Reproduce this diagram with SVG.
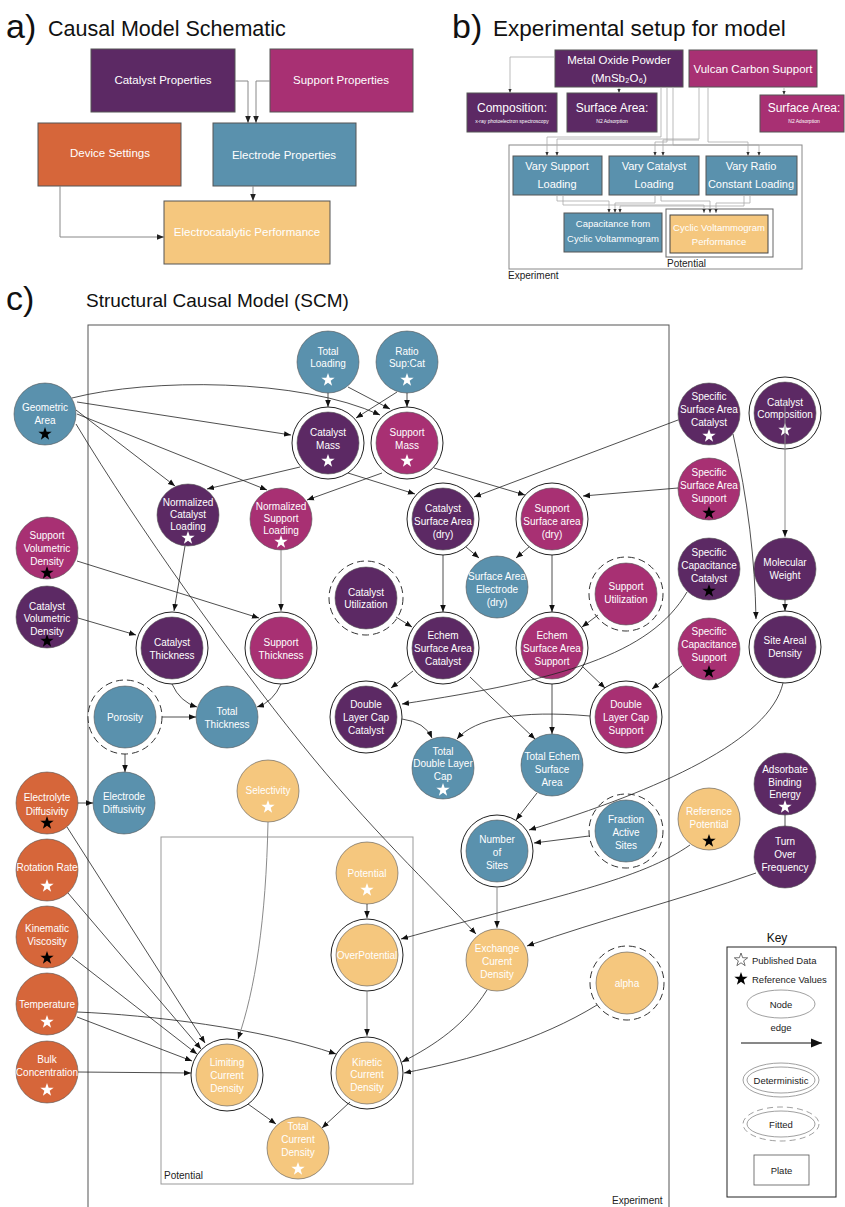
<svg xmlns="http://www.w3.org/2000/svg" width="845" height="1207" viewBox="0 0 845 1207">
<defs>
<style>
.cat{fill:#5C2964}.sup{fill:#A83073}.ele{fill:#5A91AD}.dev{fill:#D6663A}.perf{fill:#F5C77E}
.nc{stroke:#555;stroke-width:0.6}
.ring{fill:#fff;stroke:#222;stroke-width:1}
.fring{fill:#fff;stroke:#333;stroke-width:1;stroke-dasharray:7 4}
.nt{font-family:"Liberation Sans",Arial,sans-serif;font-size:10px;fill:#fff;text-anchor:middle}
.ws{fill:#fff}.bs{fill:#000}
.e{fill:none;stroke:#222;stroke-width:0.8;marker-end:url(#ah)}
.eg{fill:none;stroke:#8a8a8a;stroke-width:1;marker-end:url(#ah)}
.ttl{font-family:"Liberation Sans",Arial,sans-serif;fill:#111}
.box{stroke:#555;stroke-width:1}
.bt{font-family:"Liberation Sans",Arial,sans-serif;fill:#fff;text-anchor:middle}
.ac{fill:none;stroke:#888;stroke-width:1;marker-end:url(#ah2)}
.bc{fill:none;stroke:#aaa;stroke-width:0.8;marker-end:url(#ah3)}
.lbl{font-family:"Liberation Sans",Arial,sans-serif;font-size:10px;fill:#222}
.kt{font-family:"Liberation Sans",Arial,sans-serif;font-size:9.5px;fill:#222}
</style>
<marker id="ah" viewBox="0 0 10 10" refX="10" refY="5" markerWidth="7" markerHeight="7" markerUnits="userSpaceOnUse" orient="auto"><path d="M0,1 L10,5 L0,9 Z" fill="#111"/></marker>
<marker id="ah2" viewBox="0 0 10 10" refX="10" refY="5" markerWidth="7" markerHeight="7" markerUnits="userSpaceOnUse" orient="auto"><path d="M0,1 L10,5 L0,9 Z" fill="#222"/></marker>
<marker id="ah3" viewBox="0 0 10 10" refX="10" refY="5" markerWidth="4" markerHeight="4" markerUnits="userSpaceOnUse" orient="auto"><path d="M0,1 L10,5 L0,9 Z" fill="#333"/></marker>
<marker id="ahk" viewBox="0 0 10 10" refX="10" refY="5" markerWidth="11" markerHeight="11" markerUnits="userSpaceOnUse" orient="auto"><path d="M0,1 L10,5 L0,9 Z" fill="#111"/></marker>
<path id="star" d="M0,-7 L1.65,-2.27 L6.66,-2.16 L2.66,0.87 L4.11,5.66 L0,2.8 L-4.11,5.66 L-2.66,0.87 L-6.66,-2.16 L-1.65,-2.27 Z"/>
</defs>
<rect width="845" height="1207" fill="#fff"/>

<!-- Panel a -->
<g id="panel-a">
<text class="ttl" x="6" y="38" font-size="34">a)</text>
<text class="ttl" x="48" y="36" font-size="21.5">Causal Model Schematic</text>
<g id="a-catalyst"><rect class="cat box" x="91" y="49" width="144" height="63"/><text class="bt" x="163" y="84" font-size="11.5">Catalyst Properties</text></g>
<g id="a-support"><rect class="sup box" x="270" y="49" width="143" height="63"/><text class="bt" x="341" y="84" font-size="11.5">Support Properties</text></g>
<g id="a-device"><rect class="dev box" x="38" y="123" width="143" height="63"/><text class="bt" x="110" y="157" font-size="11.5">Device Settings</text></g>
<g id="a-electrode"><rect class="ele box" x="213" y="123" width="143" height="63"/><text class="bt" x="284" y="159" font-size="11.5">Electrode Properties</text></g>
<g id="a-performance"><rect class="perf box" x="164" y="201" width="166" height="63"/><text class="bt" x="247" y="236" font-size="11.5">Electrocatalytic Performance</text></g>
<g id="a-connectors">
<path class="ac" d="M235,81 H248 V123"/>
<path class="ac" d="M270,81 H256 V123"/>
<path class="ac" d="M253,186 V201"/>
<path class="ac" d="M60,186 V237 H164"/>
</g>
</g>

<!-- Panel b -->
<g id="panel-b">
<text class="ttl" x="452" y="38" font-size="34">b)</text>
<text class="ttl" x="493" y="36" font-size="22.5">Experimental setup for model</text>
<rect x="509" y="145" width="293" height="124" fill="none" stroke="#888" stroke-width="1"/>
<text class="lbl" x="508" y="279">Experiment</text>
<rect x="666" y="209" width="107" height="48" fill="none" stroke="#666" stroke-width="1"/>
<text class="lbl" x="667" y="267">Potential</text>
<g id="b-metal-oxide"><rect class="cat box" x="555" y="50" width="128" height="37"/><text class="bt" font-size="11.5"><tspan x="619" y="64">Metal Oxide Powder</tspan><tspan x="619" y="82">(MnSb₂O₆)</tspan></text></g>
<g id="b-vulcan"><rect class="sup box" x="689" y="50" width="128" height="37"/><text class="bt" x="753" y="73" font-size="11.5">Vulcan Carbon Support</text></g>
<g id="b-composition"><rect class="cat box" x="467" y="93" width="90" height="39"/><text class="bt" x="512" y="112" font-size="12">Composition:</text><text class="bt" x="512" y="123" font-size="5">x-ray photoelectron spectroscopy</text></g>
<g id="b-surface-area-cat"><rect class="cat box" x="567" y="93" width="90" height="39"/><text class="bt" x="612" y="112" font-size="12">Surface Area:</text><text class="bt" x="612" y="123" font-size="5">N2 Adsorption</text></g>
<g id="b-surface-area-sup"><rect class="sup box" x="760" y="95" width="84" height="37"/><text class="bt" x="804" y="112" font-size="12">Surface Area:</text><text class="bt" x="804" y="123" font-size="5">N2 Adsorption</text></g>
<g id="b-vary-support"><rect class="ele box" x="513" y="156" width="89" height="39"/><text class="bt" font-size="11"><tspan x="557" y="170">Vary Support</tspan><tspan x="557" y="188">Loading</tspan></text></g>
<g id="b-vary-catalyst"><rect class="ele box" x="609" y="156" width="90" height="39"/><text class="bt" font-size="11"><tspan x="654" y="170">Vary Catalyst</tspan><tspan x="654" y="188">Loading</tspan></text></g>
<g id="b-vary-ratio"><rect class="ele box" x="706" y="156" width="91" height="39"/><text class="bt" font-size="11"><tspan x="751" y="170">Vary Ratio</tspan><tspan x="751" y="188">Constant Loading</tspan></text></g>
<g id="b-capacitance"><rect class="ele box" x="564" y="213" width="98" height="39"/><text class="bt" font-size="9.5"><tspan x="613" y="227">Capacitance from</tspan><tspan x="613" y="242">Cyclic Voltammogram</tspan></text></g>
<g id="b-cv-performance"><rect class="perf" x="670" y="215" width="98" height="38" stroke="#444" stroke-width="1"/><text class="bt" font-size="9.5"><tspan x="719" y="231">Cyclic Voltammogram</tspan><tspan x="719" y="245">Performance</tspan></text></g>
<g id="b-connectors">
<path class="bc" d="M555,57 H510 V93"/>
<path class="bc" d="M619,87 V93"/>
<path class="bc" d="M784,87 V95"/>
<path class="bc" d="M661,87 V137 H547 V156"/>
<path class="bc" d="M699,87 V139 H557 V156"/>
<path class="bc" d="M667,87 V142 H655 V156"/>
<path class="bc" d="M699,140 H663 V156"/>
<path class="bc" d="M673,87 V145 H759 V156"/>
<path class="bc" d="M708,87 V142 H748 V156"/>
<path class="bc" d="M557,195 V201 H609 V213"/>
<path class="bc" d="M563,195 V205 H704 V213"/>
<path class="bc" d="M655,195 V203 H615 V213"/>
<path class="bc" d="M661,195 V201 H710 V213"/>
<path class="bc" d="M744,195 V206 H620 V213"/>
<path class="bc" d="M750,195 V203 H716 V213"/>
</g>
</g>

<!-- Panel c -->
<text class="ttl" x="6" y="310" font-size="34">c)</text>
<text class="ttl" x="86" y="307" font-size="19">Structural Causal Model (SCM)</text>
<g id="plates">
<rect x="88" y="325" width="581" height="900" fill="none" stroke="#555" stroke-width="1"/>
<text class="lbl" x="612" y="1204">Experiment</text>
<rect x="161" y="837" width="252" height="347" fill="none" stroke="#999" stroke-width="1"/>
<text class="lbl" x="164" y="1179">Potential</text>
</g>

<g id="nodes">
<g id="geometric-area"><circle class="ele nc" cx="45" cy="414" r="31"/><text class="nt"><tspan x="45" y="410.5">Geometric</tspan><tspan x="45" y="423.5">Area</tspan></text><use href="#star" x="45" y="434" class="bs"/></g>
<g id="total-loading"><circle class="ele nc" cx="328" cy="362" r="31"/><text class="nt"><tspan x="328" y="354.5">Total</tspan><tspan x="328" y="366.5">Loading</tspan></text><use href="#star" x="328" y="380" class="ws"/></g>
<g id="ratio-sup-cat"><circle class="ele nc" cx="407" cy="362" r="31"/><text class="nt"><tspan x="407" y="354.5">Ratio</tspan><tspan x="407" y="366.5">Sup:Cat</tspan></text><use href="#star" x="407" y="380" class="ws"/></g>
<g id="catalyst-mass"><circle class="ring" cx="328" cy="443" r="36"/><circle class="cat nc" cx="328" cy="443" r="31"/><text class="nt"><tspan x="328" y="435.5">Catalyst</tspan><tspan x="328" y="448.5">Mass</tspan></text><use href="#star" x="328" y="461" class="ws"/></g>
<g id="support-mass"><circle class="ring" cx="407" cy="443" r="36"/><circle class="sup nc" cx="407" cy="443" r="31"/><text class="nt"><tspan x="407" y="435.5">Support</tspan><tspan x="407" y="448.5">Mass</tspan></text><use href="#star" x="407" y="461" class="ws"/></g>
<g id="specific-surface-area-catalyst"><circle class="cat nc" cx="709" cy="414" r="31"/><text class="nt"><tspan x="709" y="399.5">Specific</tspan><tspan x="709" y="412.5">Surface Area</tspan><tspan x="709" y="425.5">Catalyst</tspan></text><use href="#star" x="709" y="436" class="ws"/></g>
<g id="catalyst-composition"><circle class="ring" cx="785" cy="413" r="36"/><circle class="cat nc" cx="785" cy="413" r="31"/><text class="nt"><tspan x="785" y="405.5">Catalyst</tspan><tspan x="785" y="417.5">Composition</tspan></text><use href="#star" x="785" y="430" class="ws"/></g>
<g id="specific-surface-area-support"><circle class="sup nc" cx="709" cy="489" r="31"/><text class="nt"><tspan x="709" y="475.5">Specific</tspan><tspan x="709" y="488.5">Surface Area</tspan><tspan x="709" y="501.5">Support</tspan></text><use href="#star" x="709" y="513" class="bs"/></g>
<g id="normalized-catalyst-loading"><circle class="cat nc" cx="188" cy="515" r="31"/><text class="nt"><tspan x="188" y="505.5">Normalized</tspan><tspan x="188" y="517.5">Catalyst</tspan><tspan x="188" y="529.5">Loading</tspan></text><use href="#star" x="188" y="538" class="ws"/></g>
<g id="normalized-support-loading"><circle class="sup nc" cx="281" cy="519" r="31"/><text class="nt"><tspan x="281" y="509.5">Normalized</tspan><tspan x="281" y="521.5">Support</tspan><tspan x="281" y="533.5">Loading</tspan></text><use href="#star" x="281" y="542" class="ws"/></g>
<g id="catalyst-surface-area-dry"><circle class="ring" cx="443" cy="519" r="36"/><circle class="cat nc" cx="443" cy="519" r="31"/><text class="nt"><tspan x="443" y="511.5">Catalyst</tspan><tspan x="443" y="524.5">Surface Area</tspan><tspan x="443" y="537.5">(dry)</tspan></text></g>
<g id="support-surface-area-dry"><circle class="ring" cx="552" cy="519" r="36"/><circle class="sup nc" cx="552" cy="519" r="31"/><text class="nt"><tspan x="552" y="511.5">Support</tspan><tspan x="552" y="524.5">Surface area</tspan><tspan x="552" y="537.5">(dry)</tspan></text></g>
<g id="support-volumetric-density"><circle class="sup nc" cx="47" cy="548" r="31"/><text class="nt"><tspan x="47" y="538.5">Support</tspan><tspan x="47" y="551.5">Volumetric</tspan><tspan x="47" y="564.5">Density</tspan></text><use href="#star" x="47" y="573" class="bs"/></g>
<g id="catalyst-volumetric-density"><circle class="cat nc" cx="47" cy="617" r="31"/><text class="nt"><tspan x="47" y="609.5">Catalyst</tspan><tspan x="47" y="621.5">Volumetric</tspan><tspan x="47" y="634.5">Density</tspan></text><use href="#star" x="47" y="641" class="bs"/></g>
<g id="surface-area-electrode-dry"><circle class="ele nc" cx="497" cy="587" r="31"/><text class="nt"><tspan x="497" y="579.5">Surface Area</tspan><tspan x="497" y="592.5">Electrode</tspan><tspan x="497" y="605.5">(dry)</tspan></text></g>
<g id="catalyst-utilization"><circle class="fring" cx="366" cy="598" r="37"/><circle class="cat nc" cx="366" cy="598" r="31"/><text class="nt"><tspan x="366" y="595.5">Catalyst</tspan><tspan x="366" y="607.5">Utilization</tspan></text></g>
<g id="support-utilization"><circle class="fring" cx="626" cy="594" r="37"/><circle class="sup nc" cx="626" cy="594" r="31"/><text class="nt"><tspan x="626" y="589.5">Support</tspan><tspan x="626" y="602.5">Utilization</tspan></text></g>
<g id="specific-capacitance-catalyst"><circle class="cat nc" cx="709" cy="569" r="31"/><text class="nt"><tspan x="709" y="555.5">Specific</tspan><tspan x="709" y="568.5">Capacitance</tspan><tspan x="709" y="581.5">Catalyst</tspan></text><use href="#star" x="709" y="591" class="bs"/></g>
<g id="molecular-weight"><circle class="cat nc" cx="785" cy="569" r="31"/><text class="nt"><tspan x="785" y="565.5">Molecular</tspan><tspan x="785" y="578.5">Weight</tspan></text></g>
<g id="specific-capacitance-support"><circle class="sup nc" cx="709" cy="649" r="31"/><text class="nt"><tspan x="709" y="634.5">Specific</tspan><tspan x="709" y="647.5">Capacitance</tspan><tspan x="709" y="660.5">Support</tspan></text><use href="#star" x="709" y="672" class="bs"/></g>
<g id="site-areal-density"><circle class="ring" cx="785" cy="647" r="36"/><circle class="cat nc" cx="785" cy="647" r="31"/><text class="nt"><tspan x="785" y="643.5">Site Areal</tspan><tspan x="785" y="656.5">Density</tspan></text></g>
<g id="catalyst-thickness"><circle class="ring" cx="172" cy="648" r="36"/><circle class="cat nc" cx="172" cy="648" r="31"/><text class="nt"><tspan x="172" y="645.5">Catalyst</tspan><tspan x="172" y="658.5">Thickness</tspan></text></g>
<g id="support-thickness"><circle class="ring" cx="281" cy="648" r="36"/><circle class="sup nc" cx="281" cy="648" r="31"/><text class="nt"><tspan x="281" y="645.5">Support</tspan><tspan x="281" y="658.5">Thickness</tspan></text></g>
<g id="echem-surface-area-catalyst"><circle class="ring" cx="443" cy="648" r="36"/><circle class="cat nc" cx="443" cy="648" r="31"/><text class="nt"><tspan x="443" y="638.5">Echem</tspan><tspan x="443" y="651.5">Surface Area</tspan><tspan x="443" y="664.5">Catalyst</tspan></text></g>
<g id="echem-surface-area-support"><circle class="ring" cx="552" cy="648" r="36"/><circle class="sup nc" cx="552" cy="648" r="31"/><text class="nt"><tspan x="552" y="638.5">Echem</tspan><tspan x="552" y="651.5">Surface Area</tspan><tspan x="552" y="664.5">Support</tspan></text></g>
<g id="porosity"><circle class="fring" cx="125" cy="717" r="37"/><circle class="ele nc" cx="125" cy="717" r="31"/><text class="nt" x="125" y="720.5">Porosity</text></g>
<g id="total-thickness"><circle class="ele nc" cx="227" cy="717" r="31"/><text class="nt"><tspan x="227" y="714.5">Total</tspan><tspan x="227" y="727.5">Thickness</tspan></text></g>
<g id="double-layer-cap-catalyst"><circle class="ring" cx="366" cy="717" r="36"/><circle class="cat nc" cx="366" cy="717" r="31"/><text class="nt"><tspan x="366" y="707.5">Double</tspan><tspan x="366" y="720.5">Layer Cap</tspan><tspan x="366" y="733.5">Catalyst</tspan></text></g>
<g id="double-layer-cap-support"><circle class="ring" cx="626" cy="717" r="36"/><circle class="sup nc" cx="626" cy="717" r="31"/><text class="nt"><tspan x="626" y="707.5">Double</tspan><tspan x="626" y="720.5">Layer Cap</tspan><tspan x="626" y="733.5">Support</tspan></text></g>
<g id="total-double-layer-cap"><circle class="ele nc" cx="443" cy="768" r="31"/><text class="nt"><tspan x="443" y="754.5">Total</tspan><tspan x="443" y="766.5">Double Layer</tspan><tspan x="443" y="779.5">Cap</tspan></text><use href="#star" x="443" y="790" class="ws"/></g>
<g id="total-echem-surface-area"><circle class="ele nc" cx="552" cy="765" r="31"/><text class="nt"><tspan x="552" y="759.5">Total Echem</tspan><tspan x="552" y="772.5">Surface</tspan><tspan x="552" y="785.5">Area</tspan></text></g>
<g id="electrolyte-diffusivity"><circle class="dev nc" cx="47" cy="803" r="31"/><text class="nt"><tspan x="47" y="800.5">Electrolyte</tspan><tspan x="47" y="814.5">Diffusivity</tspan></text><use href="#star" x="47" y="823" class="bs"/></g>
<g id="electrode-diffusivity"><circle class="ele nc" cx="124" cy="803" r="31"/><text class="nt"><tspan x="124" y="799.5">Electrode</tspan><tspan x="124" y="812.5">Diffusivity</tspan></text></g>
<g id="selectivity"><circle class="perf nc" cx="268" cy="791" r="31"/><text class="nt" x="268" y="793.5">Selectivity</text><use href="#star" x="268" y="807" class="ws"/></g>
<g id="number-of-sites"><circle class="ring" cx="497" cy="851" r="36"/><circle class="ele nc" cx="497" cy="851" r="31"/><text class="nt"><tspan x="497" y="842.5">Number</tspan><tspan x="497" y="855.5">of</tspan><tspan x="497" y="868.5">Sites</tspan></text></g>
<g id="fraction-active-sites"><circle class="fring" cx="626" cy="831" r="37"/><circle class="ele nc" cx="626" cy="831" r="31"/><text class="nt"><tspan x="626" y="822.5">Fraction</tspan><tspan x="626" y="835.5">Active</tspan><tspan x="626" y="848.5">Sites</tspan></text></g>
<g id="reference-potential"><circle class="perf nc" cx="709" cy="819" r="31"/><text class="nt"><tspan x="709" y="814.5">Reference</tspan><tspan x="709" y="827.5">Potential</tspan></text><use href="#star" x="709" y="841" class="bs"/></g>
<g id="adsorbate-binding-energy"><circle class="cat nc" cx="785" cy="784" r="31"/><text class="nt" font-size="9.5"><tspan x="785" y="772.5">Adsorbate</tspan><tspan x="785" y="785.5">Binding</tspan><tspan x="785" y="797.5">Energy</tspan></text><use href="#star" x="785" y="807" class="ws"/></g>
<g id="turn-over-frequency"><circle class="cat nc" cx="785" cy="857" r="31"/><text class="nt"><tspan x="785" y="844.5">Turn</tspan><tspan x="785" y="857.5">Over</tspan><tspan x="785" y="870.5">Frequency</tspan></text></g>
<g id="rotation-rate"><circle class="dev nc" cx="47" cy="870" r="31"/><text class="nt" x="47" y="871" font-size="9">Rotation Rate</text><use href="#star" x="47" y="886" class="ws"/></g>
<g id="kinematic-viscosity"><circle class="dev nc" cx="47" cy="937" r="31"/><text class="nt"><tspan x="47" y="931.5">Kinematic</tspan><tspan x="47" y="944.5">Viscosity</tspan></text><use href="#star" x="47" y="958" class="bs"/></g>
<g id="temperature"><circle class="dev nc" cx="47" cy="1004" r="31"/><text class="nt" x="47" y="1007.5">Temperature</text><use href="#star" x="47" y="1022" class="ws"/></g>
<g id="bulk-concentration"><circle class="dev nc" cx="47" cy="1072" r="31"/><text class="nt" font-size="9.5"><tspan x="47" y="1062.5">Bulk</tspan><tspan x="47" y="1075.5">Concentration</tspan></text><use href="#star" x="47" y="1090" class="ws"/></g>
<g id="potential"><circle class="perf nc" cx="367" cy="873" r="31"/><text class="nt" x="367" y="876.5">Potential</text><use href="#star" x="367" y="890" class="ws"/></g>
<g id="overpotential"><circle class="ring" cx="367" cy="955" r="36"/><circle class="perf nc" cx="367" cy="955" r="31"/><text class="nt" x="367" y="958.5">OverPotential</text></g>
<g id="exchange-current-density"><circle class="perf nc" cx="497" cy="960" r="31"/><text class="nt"><tspan x="497" y="951.5">Exchange</tspan><tspan x="497" y="964.5">Curent</tspan><tspan x="497" y="977.5">Density</tspan></text></g>
<g id="alpha"><circle class="fring" cx="627" cy="983" r="37"/><circle class="perf nc" cx="627" cy="983" r="31"/><text class="nt" x="627" y="986.5">alpha</text></g>
<g id="limiting-current-density"><circle class="ring" cx="227" cy="1075" r="36"/><circle class="perf nc" cx="227" cy="1075" r="31"/><text class="nt"><tspan x="227" y="1065.5">Limiting</tspan><tspan x="227" y="1078.5">Current</tspan><tspan x="227" y="1091.5">Density</tspan></text></g>
<g id="kinetic-current-density"><circle class="ring" cx="367" cy="1073" r="36"/><circle class="perf nc" cx="367" cy="1073" r="31"/><text class="nt"><tspan x="367" y="1065.5">Kinetic</tspan><tspan x="367" y="1077.5">Current</tspan><tspan x="367" y="1090.5">Density</tspan></text></g>
<g id="total-current-density"><circle class="perf nc" cx="298" cy="1148" r="31"/><text class="nt"><tspan x="298" y="1129.5">Total</tspan><tspan x="298" y="1142.5">Current</tspan><tspan x="298" y="1155.5">Density</tspan></text><use href="#star" x="298" y="1169" class="ws"/></g>
</g>

<g id="connectors">
<path class="e" d="M77,402 L291,435"/>
<path class="e" d="M72,398 C150,378 300,378 380,415"/>
<path class="e" d="M76,410 L175,486"/>
<path class="e" d="M77,414 L267,490"/>
<path class="e" d="M76,424 C140,530 230,655 300,742 S430,885 476,934"/>
<path class="e" d="M328,393 L328,407"/>
<path class="e" d="M348,387 L390,409"/>
<path class="e" d="M407,393 L407,407"/>
<path class="e" d="M397,392 L356,418"/>
<path class="e" d="M300,467 L207,489"/>
<path class="e" d="M382,473 L307,500"/>
<path class="e" d="M348,473 L415,494"/>
<path class="e" d="M434,468 L525,495"/>
<path class="e" d="M678,420 L474,497"/>
<path class="e" d="M733,434 C748,500 755,560 756,619"/>
<path class="eg" d="M785,400 L785,537"/>
<path class="e" d="M185,546 L174,611"/>
<path class="eg" d="M281,550 L281,611"/>
<path class="e" d="M77,561 L259,618"/>
<path class="e" d="M78,618 L136,635"/>
<path class="e" d="M172,684 Q180,702 197,707"/>
<path class="e" d="M281,684 Q273,702 257,707"/>
<path class="e" d="M162,717 L196,717"/>
<path class="e" d="M125,754 L125,772"/>
<path class="e" d="M78,803 L93,803"/>
<path class="e" d="M466,547 L479,558"/>
<path class="e" d="M529,547 L516,558"/>
<path class="e" d="M443,555 L443,612"/>
<path class="e" d="M552,555 L552,612"/>
<path class="e" d="M678,488 L583,496"/>
<path class="e" d="M396,617 L412,627"/>
<path class="e" d="M598,615 L582,627"/>
<path class="e" d="M413,671 L391,688"/>
<path class="e" d="M470,677 L535,739"/>
<path class="e" d="M552,684 L552,734"/>
<path class="e" d="M583,667 L605,688"/>
<path class="e" d="M687,592 C650,655 560,680 402,704"/>
<path class="e" d="M682,666 L652,689"/>
<path class="e" d="M402,719 Q425,722 432,738"/>
<path class="e" d="M590,716 C520,710 475,718 457,739"/>
<path class="e" d="M537,793 L516,820"/>
<path class="e" d="M783,683 C770,740 660,790 529,830"/>
<path class="e" d="M589,836 L534,843"/>
<path class="eg" d="M497,887 L497,928"/>
<path class="e" d="M690,845 C640,880 560,895 401,939"/>
<path class="e" d="M756,873 C680,900 600,920 527,946"/>
<path d="M785,815 L785,826" fill="none" stroke="#222" stroke-width="0.8"/>
<path class="e" d="M367,904 L367,918"/>
<path class="eg" d="M367,991 L367,1036"/>
<path class="e" d="M487,990 C465,1025 435,1045 402,1062"/>
<path class="e" d="M597,1005 C540,1040 470,1060 404,1073"/>
<path class="e" d="M77,1012 C150,1015 260,1028 336,1054"/>
<path class="e" d="M77,1017 L192,1061"/>
<path class="e" d="M78,1072 L191,1073"/>
<path class="e" d="M67,827 L205,1043"/>
<path class="e" d="M68,893 L201,1049"/>
<path class="e" d="M72,957 L197,1054"/>
<path class="eg" d="M268,822 C266,920 255,990 238,1039"/>
<path class="e" d="M248,1104 L276,1124"/>
<path class="e" d="M350,1102 L322,1128"/>
<path class="e" d="M785,600 L785,611"/>
</g>

<g id="key">
<text class="ttl" x="777" y="942" font-size="12" text-anchor="middle">Key</text>
<rect x="727" y="947" width="109" height="250" fill="none" stroke="#222" stroke-width="1"/>
<use href="#star" x="741" y="960" fill="none" stroke="#333" stroke-width="0.7"/>
<text class="kt" x="752" y="963.5">Published Data</text>
<use href="#star" x="741" y="979" class="bs"/>
<text class="kt" x="752" y="982.5">Reference Values</text>
<ellipse cx="781" cy="1004" rx="34" ry="14" fill="none" stroke="#888" stroke-width="0.8"/>
<text class="kt" x="781" y="1007.5" text-anchor="middle">Node</text>
<text class="kt" x="781" y="1031" text-anchor="middle">edge</text>
<line x1="741" y1="1043" x2="822" y2="1043" stroke="#111" stroke-width="1" marker-end="url(#ahk)"/>
<ellipse cx="781" cy="1080" rx="38" ry="17" fill="none" stroke="#888" stroke-width="0.8"/>
<ellipse cx="781" cy="1080" rx="34" ry="13" fill="none" stroke="#888" stroke-width="0.8"/>
<text class="kt" x="781" y="1083.5" text-anchor="middle">Deterministic</text>
<ellipse cx="781" cy="1124" rx="38" ry="17" fill="none" stroke="#888" stroke-width="0.8" stroke-dasharray="6 4"/>
<ellipse cx="781" cy="1124" rx="34" ry="13" fill="none" stroke="#888" stroke-width="0.8"/>
<text class="kt" x="781" y="1127.5" text-anchor="middle">Fitted</text>
<rect x="754" y="1155" width="55" height="30" fill="none" stroke="#555" stroke-width="0.8"/>
<text class="kt" x="781.5" y="1173.5" text-anchor="middle">Plate</text>
</g>
</svg>
